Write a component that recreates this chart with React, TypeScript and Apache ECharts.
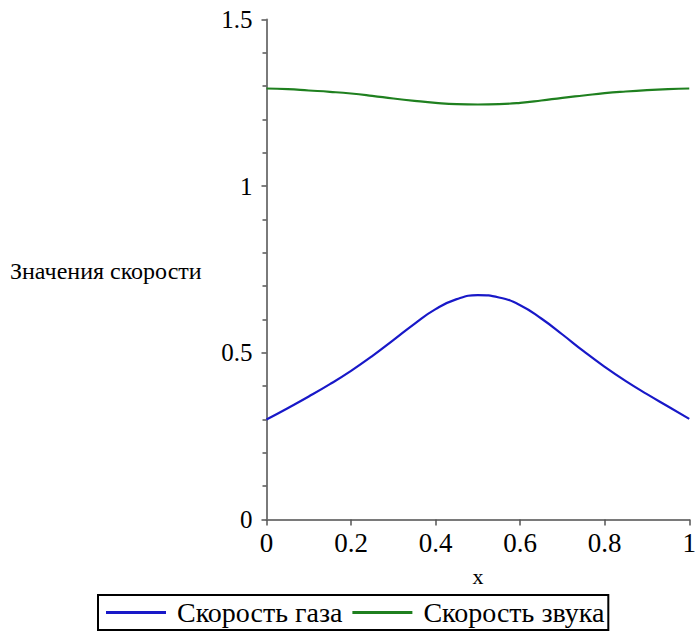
import React, { useEffect, useRef } from "react";
import * as echarts from "echarts";

// Sample positions along x
const xValues = [0, 0.05, 0.1, 0.15, 0.2, 0.25, 0.3, 0.35, 0.4, 0.45, 0.5, 0.55, 0.6, 0.65, 0.7, 0.75, 0.8, 0.85, 0.9, 0.95, 1.0];

// Gas velocity
const gasSpeed = [0.3, 0.334, 0.369, 0.406, 0.446, 0.49, 0.538, 0.587, 0.631, 0.661, 0.673, 0.666, 0.643, 0.603, 0.555, 0.505, 0.458, 0.415, 0.376, 0.339, 0.302];

// Speed of sound
const soundSpeed = [1.293, 1.291, 1.287, 1.283, 1.278, 1.271, 1.263, 1.256, 1.25, 1.246, 1.245, 1.246, 1.25, 1.257, 1.265, 1.272, 1.279, 1.284, 1.288, 1.291, 1.293];

const seriesNames = ["Скорость газа", "Скорость звука"];
const yAxisTitle = "Значения скорости";
const xAxisTitle = "x";

const FONT = "Liberation Serif, Times New Roman, serif";

export default function App() {
  const ref = useRef<HTMLDivElement>(null);

  useEffect(() => {
    if (!ref.current) return;
    const chart = echarts.init(ref.current, null, { renderer: "svg" });
    const axisLine = { lineStyle: { color: "#7a7a7a", width: 2 } };
    chart.setOption({
      animation: false,
      backgroundColor: "#ffffff",
      textStyle: { fontFamily: FONT },
      grid: { left: 266.5, top: 19.5, width: 430, height: 500, containLabel: false },
      xAxis: {
        type: "value",
        min: 0,
        max: 1,
        interval: 0.2,
        name: xAxisTitle,
        nameLocation: "middle",
        nameGap: 46,
        nameTextStyle: { color: "#000", fontSize: 22, fontFamily: FONT },
        axisLine,
        axisTick: { show: true, length: 6, lineStyle: { color: "#555", width: 1.5 } },
        axisLabel: {
          color: "#000",
          fontSize: 27,
          fontFamily: FONT,
          margin: 10,
          formatter: (v: number) => String(Number(v.toFixed(1))),
        },
        splitLine: { show: false },
      },
      yAxis: {
        type: "value",
        min: 0,
        max: 1.5,
        interval: 0.5,
        axisLine,
        axisTick: { show: true, length: 5, lineStyle: { color: "#555", width: 1.5 } },
        minorTick: { show: true, splitNumber: 5, length: 4, lineStyle: { color: "#555", width: 1.5 } },
        axisLabel: {
          color: "#000",
          fontSize: 25,
          fontFamily: FONT,
          margin: 14,
          formatter: (v: number) => String(v),
        },
        splitLine: { show: false },
      },
      legend: {
        top: 595,
        left: 98,
        orient: "horizontal",
        borderColor: "#000",
        borderWidth: 2,
        padding: [2, 4, 2, 8],
        itemGap: 10,
        itemWidth: 60,
        itemHeight: 3,
        icon: "rect",
        textStyle: { color: "#000", fontSize: 28, lineHeight: 31, fontFamily: FONT, padding: [0, 0, 0, 6] },
        data: seriesNames,
      },
      graphic: [
        {
          type: "text",
          left: 10,
          top: 259,
          style: { text: yAxisTitle, fontSize: 24, fontFamily: FONT, fill: "#000" },
        },
      ],
      series: [
        {
          name: seriesNames[0],
          type: "line",
          smooth: true,
          showSymbol: false,
          lineStyle: { color: "#1818c8", width: 2.2 },
          itemStyle: { color: "#1818c8" },
          data: xValues.map((x, i) => [x, gasSpeed[i]]),
        },
        {
          name: seriesNames[1],
          type: "line",
          smooth: true,
          showSymbol: false,
          lineStyle: { color: "#1f801f", width: 2.2 },
          itemStyle: { color: "#1f801f" },
          data: xValues.map((x, i) => [x, soundSpeed[i]]),
        },
      ],
    });
    return () => chart.dispose();
  }, []);

  return (
    <div
      ref={ref}
      style={{ position: "absolute", left: 0, top: 0, width: 699, height: 632 }}
    />
  );
}
